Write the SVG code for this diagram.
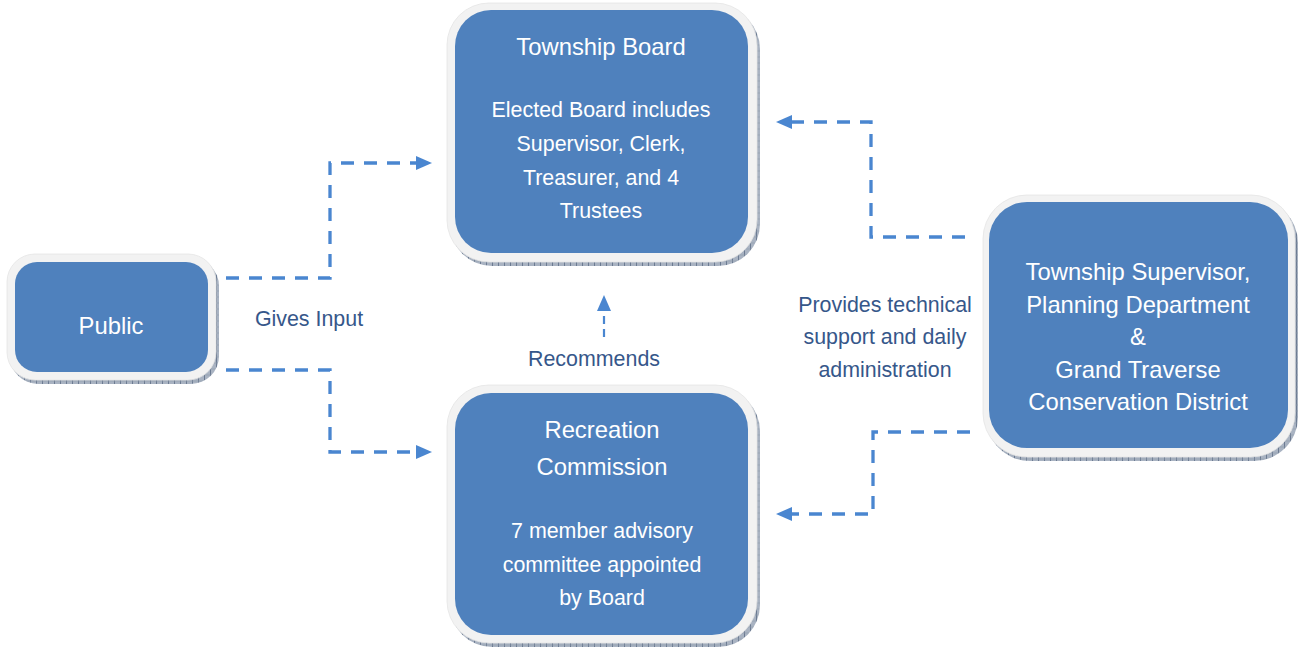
<svg xmlns="http://www.w3.org/2000/svg" width="1301" height="650" viewBox="0 0 1301 650">
  <style>
    .shadow { fill: url(#hatch); }
    .rim { fill: #F2F2F2; stroke: #E4E4E4; stroke-width: 0.8; }
    .core { fill: #4F81BD; }
    .title { font-family: "Liberation Sans", Arial, sans-serif; font-size: 23.8px; fill: #FFFFFF; text-anchor: middle; }
    .body { font-family: "Liberation Sans", Arial, sans-serif; font-size: 21.4px; fill: #FFFFFF; text-anchor: middle; }
    .label { font-family: "Liberation Sans", Arial, sans-serif; font-size: 21.4px; fill: #36578A; text-anchor: middle; }
    .conn { fill: none; stroke: #4A86D0; stroke-width: 3.3; stroke-dasharray: 13 10; }
    .conn-thin { fill: none; stroke: #4A86D0; stroke-width: 2.2; stroke-dasharray: 8 5; }
  </style>
  <defs>
    <pattern id="hatch" width="6" height="6" patternUnits="userSpaceOnUse">
      <rect width="6" height="6" fill="#A9B3C2"/>
      <path d="M0.5,0 V6" stroke="#6C7B92" stroke-width="1"/>
      <path d="M0,3 H6" stroke="#8D99AB" stroke-width="0.6"/>
    </pattern>
    <marker id="arrow" markerUnits="userSpaceOnUse" markerWidth="16" markerHeight="14" refX="6" refY="7" orient="auto">
      <path d="M0,0 L16,7 L0,14 z" fill="#4A86D0"/>
    </marker>
  </defs>

  <g id="connectors">
    <path class="conn" d="M226,278 H330 V163 H422" marker-end="url(#arrow)"/>
    <path class="conn" d="M226,370 H330 V452 H422" marker-end="url(#arrow)"/>
    <path class="conn" d="M965,237 H871 V122 H786" marker-end="url(#arrow)"/>
    <path class="conn" d="M970,432 H873 V514 H786" marker-end="url(#arrow)"/>
    <path class="conn-thin" d="M604,337 V305" marker-end="url(#arrow)"/>
  </g>

  <g id="labels">
    <text class="label" x="309" y="326">Gives Input</text>
    <text class="label" x="594" y="366">Recommends</text>
    <text class="label" x="885" y="312">Provides technical</text>
    <text class="label" x="885" y="344">support and daily</text>
    <text class="label" x="885" y="377">administration</text>
  </g>

  <g id="township-board">
    <rect class="shadow" x="450" y="7" width="310" height="259" rx="42"/>
    <rect class="rim" x="447" y="3" width="310" height="259" rx="42"/>
    <rect class="core" x="455" y="10" width="293" height="243" rx="36"/>
    <text class="title" x="601" y="55">Township Board</text>
    <text class="body" x="601" y="117">Elected Board includes</text>
    <text class="body" x="601" y="151">Supervisor, Clerk,</text>
    <text class="body" x="601" y="185">Treasurer, and 4</text>
    <text class="body" x="601" y="218">Trustees</text>
  </g>

  <g id="recreation-commission">
    <rect class="shadow" x="450" y="389" width="310" height="258" rx="42"/>
    <rect class="rim" x="447" y="385" width="310" height="258" rx="42"/>
    <rect class="core" x="455" y="393" width="293" height="242" rx="36"/>
    <text class="title" x="602" y="438">Recreation</text>
    <text class="title" x="602" y="475">Commission</text>
    <text class="body" x="602" y="538">7 member advisory</text>
    <text class="body" x="602" y="572">committee appointed</text>
    <text class="body" x="602" y="605">by Board</text>
  </g>

  <g id="public">
    <rect class="shadow" x="10" y="258" width="209" height="126" rx="28"/>
    <rect class="rim" x="7" y="254" width="209" height="126" rx="28"/>
    <rect class="core" x="15" y="262" width="193" height="110" rx="22"/>
    <text class="title" x="111" y="334">Public</text>
  </g>

  <g id="township-supervisor">
    <rect class="shadow" x="986" y="199" width="312" height="262" rx="44"/>
    <rect class="rim" x="983" y="195" width="312" height="262" rx="44"/>
    <rect class="core" x="989" y="202" width="299" height="246" rx="38"/>
    <text class="title" x="1138" y="280">Township Supervisor,</text>
    <text class="title" x="1138" y="313">Planning Department</text>
    <text class="title" x="1138" y="345">&amp;</text>
    <text class="title" x="1138" y="378">Grand Traverse</text>
    <text class="title" x="1138" y="410">Conservation District</text>
  </g>
</svg>
